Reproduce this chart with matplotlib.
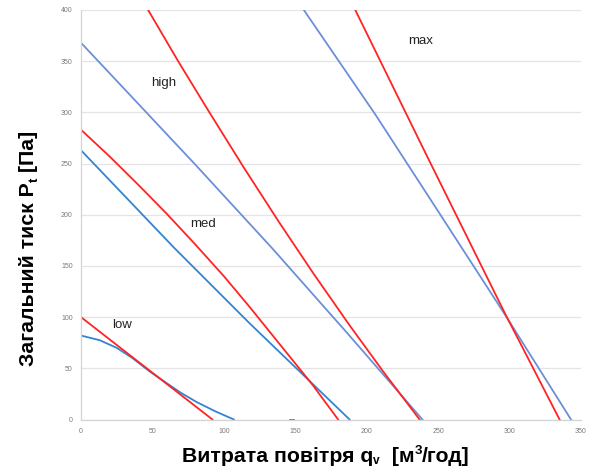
import matplotlib
matplotlib.use("Agg")
import matplotlib.pyplot as plt

# ---- data ----
low_red_x = [0, 92]
low_red_y = [100, 0]
low_blue_x = [0, 13, 25, 36, 48, 60, 70, 81, 94, 107]
low_blue_y = [82, 77.5, 70, 60, 47, 35.5, 26, 17, 8, 0]
low_blue_tail_x = [146, 149]
low_blue_tail_y = [0, 0]

med_red_x = [0, 20, 41, 60, 80, 100, 118, 140, 162, 180]
med_red_y = [283, 257, 228, 201, 171, 140, 110, 72, 34, 0]
med_blue_x = [0, 65, 118, 188]
med_blue_y = [263, 168, 94, 0]

high_red_x = [47, 68, 89, 114, 139, 163, 188, 212, 237]
high_red_y = [400, 350, 302, 246, 192, 142, 92, 46, 0]
high_blue_x = [0, 80, 134, 186, 239]
high_blue_y = [368, 249, 167, 85, 0]

max_red_x = [192, 243, 297, 335]
max_red_y = [400, 255, 103, 0]
max_blue_x = [156, 206, 246, 297, 343]
max_blue_y = [400, 298, 212, 102, 0]

curve_labels = ["low", "med", "high", "max"]
label_x = [28.7, 85.4, 58, 238]
label_y = [92.3, 190.7, 328.6, 369.3]

x_ticks = [0, 50, 100, 150, 200, 250, 300, 350]
y_ticks = [0, 50, 100, 150, 200, 250, 300, 350, 400]

# axis titles as (text, size in pt, shift in px) pieces
xlabel_parts = [("Витрата повітря q", 15.3, 0), ("v", 8.6, -3), ("  [м", 15.3, 0),
                ("3", 9.6, 7), ("/год]", 15.3, 0)]
ylabel_parts = [("Загальний тиск P", 15.3, 0), ("t", 9.6, -3), (" [Па]", 15.3, 0)]

RED = "#ff2424"
BLUE = "#3484d2"
BLUE2 = "#6b8fd8"

fig = plt.figure(figsize=(6.0, 4.71), dpi=100)
ax = fig.add_axes([81 / 600, 51.5 / 471, 500 / 600, 409.5 / 471])

lw = 1.3
ax.plot(low_blue_x, low_blue_y, color=BLUE, lw=lw)
ax.plot(low_blue_tail_x, low_blue_tail_y, color=BLUE, lw=lw)
ax.plot(low_red_x, low_red_y, color=RED, lw=lw)
ax.plot(med_blue_x, med_blue_y, color=BLUE, lw=lw)
ax.plot(med_red_x, med_red_y, color=RED, lw=lw)
ax.plot(high_blue_x, high_blue_y, color=BLUE2, lw=lw)
ax.plot(high_red_x, high_red_y, color=RED, lw=lw)
ax.plot(max_blue_x, max_blue_y, color=BLUE2, lw=lw)
ax.plot(max_red_x, max_red_y, color=RED, lw=lw)

for t, x, y in zip(curve_labels, label_x, label_y):
    ax.text(x, y, t, ha="center", va="center", fontsize=9.5,
            family="Liberation Sans", color="#222222")

ax.set_xlim(0, 350)
ax.set_ylim(0, 400)
ax.set_xticks(x_ticks)
ax.set_yticks(y_ticks)
ax.tick_params(length=0, labelsize=5, labelcolor="#7a7a7a", pad=6)
for lab in ax.get_xticklabels() + ax.get_yticklabels():
    lab.set_family("Liberation Sans")
ax.grid(axis="y", color="#e4e4e4", lw=0.9)
ax.set_axisbelow(True)
for s in ["top", "right"]:
    ax.spines[s].set_visible(False)
for s in ["left", "bottom"]:
    ax.spines[s].set_color("#d4d4d4")
    ax.spines[s].set_linewidth(0.9)

W, H = 600, 471
renderer = fig.canvas.get_renderer()


def compose(parts, cx, cy, vertical):
    """Place text pieces side by side, centred on (cx, cy) pixels from top-left;
    cy is the baseline for horizontal text, cx the baseline for vertical text."""
    objs = []
    lens = []
    for txt, size, _ in parts:
        t = fig.text(0, 0, txt, fontsize=size, fontweight="bold",
                     family="Liberation Sans", ha="left", va="baseline",
                     rotation=90 if vertical else 0)
        bb = t.get_window_extent(renderer)
        lens.append(bb.height if vertical else bb.width)
        objs.append(t)
    total = sum(lens)
    pos = -total / 2
    for t, L, (_, _, shift) in zip(objs, lens, parts):
        if vertical:
            px = cx - shift
            py = cy + (-pos)
            t.set_position((px / W, 1 - py / H))
            t.set_ha("right")
            t.set_va("bottom")
        else:
            px = cx + pos
            py = cy - shift
            t.set_position((px / W, 1 - py / H))
        pos += L
    return objs


compose(xlabel_parts, 325.5, 461.5, vertical=False)
compose(ylabel_parts, 38.0, 248, vertical=True)

fig.savefig("out.png", dpi=100)
